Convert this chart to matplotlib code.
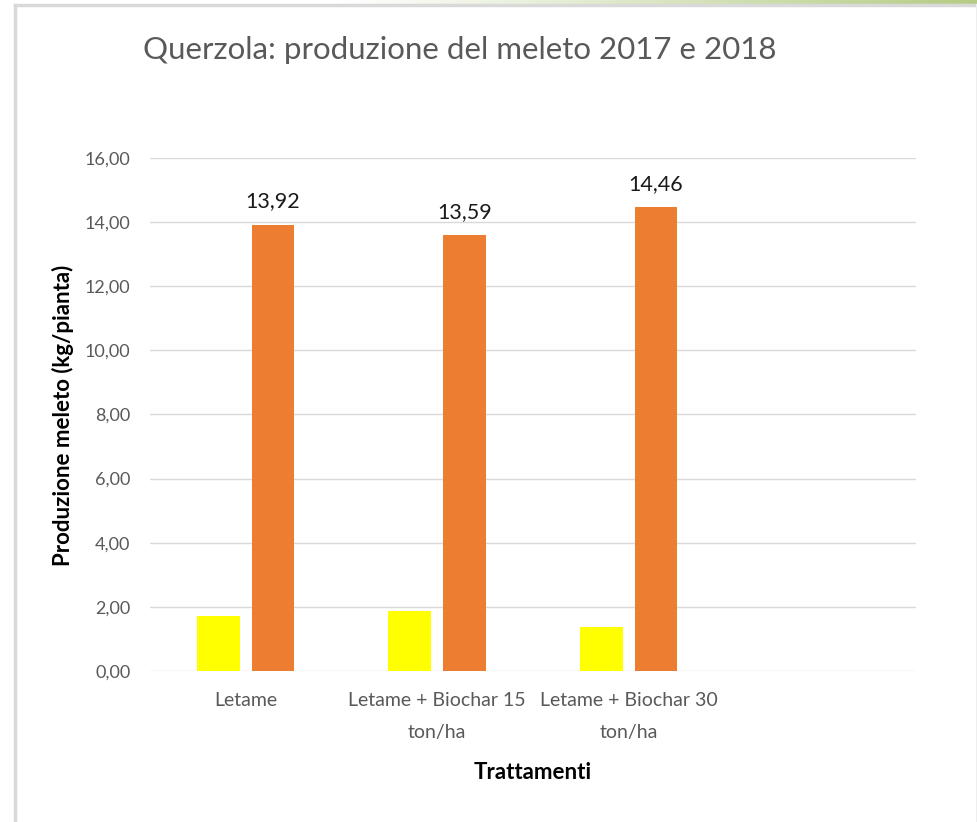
import matplotlib.pyplot as plt
import numpy as np
from matplotlib.lines import Line2D
from matplotlib.colors import LinearSegmentedColormap

categories = ['Letame', 'Letame + Biochar 15\nton/ha', 'Letame + Biochar 30\nton/ha', '']
prod_2017 = [1.72, 1.87, 1.38]
prod_2018 = [13.92, 13.59, 14.46]
yticks = [0, 2, 4, 6, 8, 10, 12, 14, 16]

plt.rcParams['font.family'] = ['Lato', 'DejaVu Sans']

fig = plt.figure(figsize=(9.78, 8.22), dpi=100)
ax = fig.add_axes([0.1534, 0.1837, 0.7829, 0.6241])

w = 0.223
off = 0.143
x = np.arange(len(prod_2017))
ax.bar(x - off, prod_2017, width=w, color='#ffff00', zorder=3)
b2 = ax.bar(x + off, prod_2018, width=w, color='#ed7d31', zorder=3)
for rect, v in zip(b2, prod_2018):
    ax.text(rect.get_x() + rect.get_width() / 2, v + 0.42,
            '{:.2f}'.format(v).replace('.', ','),
            ha='center', va='bottom', fontsize=15.5, color='#1a1a1a')

ax.set_xlim(-0.5, len(categories) - 0.5)
ax.set_ylim(0, 16)
ax.set_yticks(yticks)
ax.set_yticklabels(['{:.2f}'.format(t).replace('.', ',') for t in yticks],
                   fontsize=13, color='#595959')
ax.set_xticks(np.arange(len(categories)))
ax.set_xticklabels(categories, fontsize=14, color='#595959', linespacing=2.05)
ax.tick_params(axis='both', length=0)
ax.tick_params(axis='y', pad=14)
ax.tick_params(axis='x', pad=15)
ax.grid(axis='y', color='#d9d9d9', linewidth=1, zorder=0)
for s in ax.spines.values():
    s.set_visible(False)

fig.text(0.1534 + 0.7829 / 2, 1 - 772 / 822, 'Trattamenti', ha='center', va='center',
         fontsize=16, fontweight='bold', color='black')
fig.text(63 / 978, 1 - 415 / 822, 'Produzione meleto (kg/pianta)', ha='center',
         va='center', rotation=90, fontsize=16, fontweight='bold', color='black')
fig.text(460 / 978, 1 - 50 / 822, 'Querzola: produzione del meleto 2017 e 2018',
         ha='center', va='center', fontsize=22.5, color='#595959')

# frame around the chart
fig.add_artist(Line2D([15 / 978, 15 / 978], [0, 1 - 5 / 822], color='#d9d9d9', lw=2.5))
fig.add_artist(Line2D([15 / 978, 1], [1 - 5 / 822, 1 - 5 / 822], color='#d9d9d9', lw=2.5))
fig.add_artist(Line2D([977 / 978, 977 / 978], [0, 1 - 5 / 822], color='#eeeeee', lw=1.5))
grad = np.linspace(0, 1, 256).reshape(1, -1)
gax = fig.add_axes([0.35, 1 - 4 / 822, 0.65, 4 / 822])
gax.imshow(grad, aspect='auto', cmap=LinearSegmentedColormap.from_list('g', ['#ffffff', '#b5cc85']))
gax.axis('off')

fig.savefig('out.png', dpi=100)
